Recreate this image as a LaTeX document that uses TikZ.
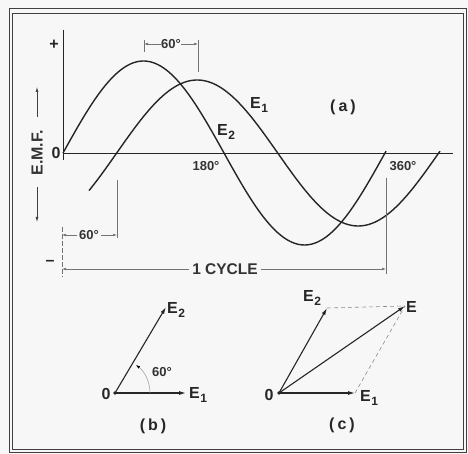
\documentclass[tikz,border=0pt]{standalone}
\usepackage{fontspec}
\setmainfont{Liberation Sans}
\usetikzlibrary{arrows.meta}
\newcommand{\Esub}[1]{E\kern0.5pt\raisebox{-3.5pt}{\fontsize{12}{12}\selectfont #1}}
\begin{document}
\begin{tikzpicture}[x=1pt,y=-1pt,
  wave/.style={line width=1.4pt,black!85},
  axisline/.style={line width=0.9pt,black!85},
  dimline/.style={line width=0.5pt,black!55},
  dimarrow/.style={dimline,-{Latex[length=4pt,width=2.6pt]}},
  phasor/.style={line width=1.1pt,black!85,-{Latex[length=7pt,width=4pt]}},
  para/.style={line width=0.6pt,black!45,dash pattern=on 4pt off 3pt},
  lbl/.style={inner sep=0pt,font=\fontsize{16}{16}\selectfont\bfseries,text=black!85},
  smalllbl/.style={inner sep=0pt,font=\fontsize{13}{13}\selectfont\bfseries,text=black!80},
  frameline/.style={line width=1pt,black!75}]
% background and frame
\fill[black!3] (0,0) rectangle (468,454);
\draw[frameline] (9,9) rectangle (466.5,452.5);
\draw[frameline,line width=0.7pt] (12.5,13) rectangle (463.5,449.5);
% axes
\coordinate (O) at (63,153);
\coordinate (Ytop) at (63,30);
\coordinate (Ybot) at (63,160);
\coordinate (Xend) at (453,153);
\draw[axisline] (Ytop) -- (Ybot);
\draw[axisline] (O) -- (Xend);
\node[lbl] (plus) at (54,45) {+};
\node[lbl] (zero) at (56,153) {0};
\node[lbl] (minus) at (50,263) {\textendash};
% E.M.F. label
\node[lbl,rotate=90,text=black!80] (emf) at (37,153) {E.M.F.};
\coordinate (emfUpS) at (37,117);
\coordinate (emfUpE) at (37,87);
\coordinate (emfDnS) at (37,187);
\coordinate (emfDnE) at (37,222);
\draw[dimline,line width=0.7pt,black!75,-{Latex[length=5pt,width=3pt]}] (emfUpS) -- (emfUpE);
\draw[dimline,line width=0.7pt,black!75,-{Latex[length=5pt,width=3pt]}] (emfDnS) -- (emfDnE);
% waves
\draw[wave] plot[domain=63:386,samples=120,smooth] (\x,{153-92*sin((\x-63)/161*180)});
\draw[wave] plot[domain=89:440,samples=120,smooth] (\x,{153-73*sin((\x-116.7)/161*180)});
\node[lbl] (E1a) at (259,105) {\Esub{1}};
\node[lbl] (E2a) at (226,132) {\Esub{2}};
\node[lbl] (a) at (343,107) {(\kern3pt a\kern3pt)};
\node[smalllbl] (t180) at (206,166) {180°};
\node[smalllbl] (t360) at (403,166) {360°};
% top 60 degree dimension
\coordinate (tl1) at (144,40); \coordinate (tl2) at (144,52);
\coordinate (tr1) at (198,40); \coordinate (tr2) at (198,72);
\draw[dimline] (tl1) -- (tl2);
\draw[dimline] (tr1) -- (tr2);
\node[smalllbl] (top60) at (171,44) {60°};
\coordinate (tla) at (144,44); \coordinate (tra) at (198,44);
\draw[dimarrow] (top60.west) -- (tla);
\draw[dimarrow] (top60.east) -- (tra);
% lower 60 degree dimension
\coordinate (ll1) at (62,227); \coordinate (ll2) at (62,277);
\coordinate (lr1) at (117,180); \coordinate (lr2) at (117,238);
\draw[dimline,dash pattern=on 5pt off 2pt] (ll1) -- (ll2);
\draw[dimline] (lr1) -- (lr2);
\node[smalllbl] (low60) at (89,235) {60°};
\coordinate (lla) at (62,235); \coordinate (lra) at (117,235);
\draw[dimarrow] ([xshift=-2pt]low60.west) -- (lla);
\draw[dimarrow] ([xshift=2pt]low60.east) -- (lra);
% 1 cycle dimension
\coordinate (cr1) at (386,178); \coordinate (cr2) at (386,274);
\draw[dimline] (cr1) -- (cr2);
\node[smalllbl,font=\fontsize{15.5}{15.5}\selectfont\bfseries] (cyc) at (225,269) {1 CYCLE};
\coordinate (cla) at (62,269); \coordinate (cra) at (386,269);
\draw[dimarrow] ([xshift=-3pt]cyc.west) -- (cla);
\draw[dimarrow] ([xshift=3pt]cyc.east) -- (cra);
% phasor diagram (b)
\coordinate (Ob) at (115,393);
\coordinate (E1b) at (186,393);
\coordinate (E2b) at (166,307);
\fill[black!85] (Ob) circle (1.8);
\draw[phasor] (Ob) -- (E1b);
\draw[phasor] (Ob) -- (E2b);
\draw[line width=0.5pt,black!40,-{Latex[length=4pt,width=3pt,black]}] ([xshift=35pt]Ob) arc[start angle=0,end angle=-53,radius=35];
\node[lbl] (ob0) at (106,394) {0};
\node[lbl,anchor=west] (e1b) at (189,395) {\Esub{1}};
\node[lbl,anchor=west] (e2b) at (167,310) {\Esub{2}};
\node[smalllbl] (b60) at (162,372) {60°};
\node[lbl] (b) at (153,426) {(\kern3pt b\kern3pt)};
% phasor diagram (c)
\coordinate (Oc) at (279,393);
\coordinate (E1c) at (355,393);
\coordinate (E2c) at (327,308);
\coordinate (Ec) at (405,306);
\fill[black!85] (Oc) circle (1.8);
\draw[para] (E2c) -- (Ec);
\draw[para] (E1c) -- (Ec);
\draw[phasor] (Oc) -- (E1c);
\draw[phasor] (Oc) -- (E2c);
\draw[phasor] (Oc) -- (Ec);
\node[lbl] (oc0) at (269,395) {0};
\node[lbl,anchor=west] (e1c) at (360,398) {\Esub{1}};
\node[lbl,anchor=west] (e2c) at (303,298) {\Esub{2}};
\node[lbl,anchor=west] (ec) at (406,307) {E};
\node[lbl] (c) at (342,425) {(\kern3pt c\kern3pt)};
\end{tikzpicture}
\end{document}
